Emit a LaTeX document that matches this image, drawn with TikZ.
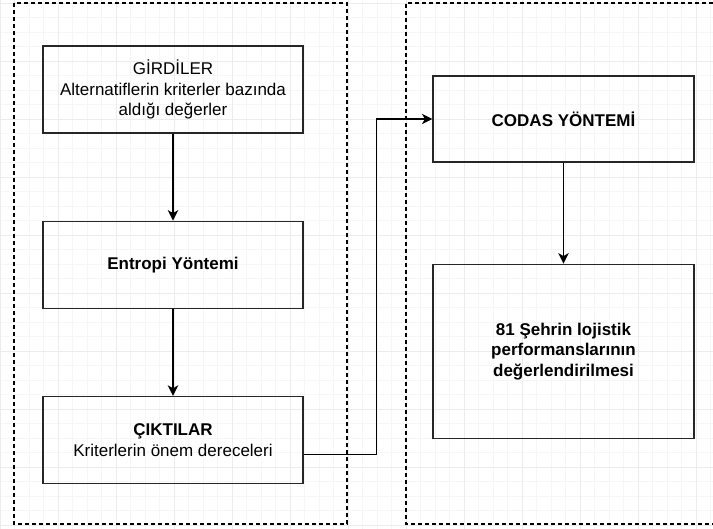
\documentclass[tikz,border=0pt]{standalone}
\usepackage{fontspec}
\setmainfont{Liberation Sans}
\usetikzlibrary{arrows.meta}
\usetikzlibrary{positioning}

\begin{document}
\begin{tikzpicture}[x=1pt, y=1pt,
  box/.style={draw=black!85, line width=1.2pt, minimum width=260pt, minimum height=87pt,
    align=center, inner sep=2pt, font=\fontsize{17}{20.5}\selectfont},
  arr/.style={line width=1.2pt, -{Stealth[length=10.5pt, width=10.5pt, inset=3pt]}},
  frame/.style={line width=1.3pt, dash pattern=on 4pt off 3pt},
  minorgrid/.style={gray!7, line width=0.8pt},
  majorgrid/.style={gray!15, line width=0.8pt}]
  \useasboundingbox (0,0) rectangle (713,-529);
  \clip (0,0) rectangle (713,-529);
  \fill[white] (0,0) rectangle (713,-529);

  % background grid
  \foreach \x in {0,14.5,...,713} \draw[minorgrid] (\x,0) -- (\x,-529);
  \foreach \y in {-3,-17.5,...,-529} \draw[minorgrid] (0,\y) -- (713,\y);
  \foreach \x in {0,58,...,713} \draw[majorgrid] (\x,0) -- (\x,-529);
  \foreach \y in {-3,-61,...,-529} \draw[majorgrid] (0,\y) -- (713,\y);

  % frames
  \draw[frame] (14,-3) rectangle (347,-524);
  \draw[frame] (720,-3) -- (406,-3) -- (406,-524) -- (720,-524);

  \node[box] (gir) at (173,-89.5) {GİRDİLER\\Alternatiflerin kriterler bazında\\aldığı değerler};
  \node[box, below=87pt of gir, font=\fontsize{17}{20.5}\selectfont\bfseries] (ent) {Entropi Yöntemi};
  \node[box, below=87pt of ent] (cik) {\textbf{ÇIKTILAR}\\Kriterlerin önem dereceleri};

  \node[box, minimum width=261pt, minimum height=86pt, font=\fontsize{17}{20.5}\selectfont\bfseries] (codas) at (563.5,-119) {CODAS YÖNTEMİ};
  \node[box, below=101pt of codas, minimum width=261pt, minimum height=174pt,
    font=\fontsize{17}{20.5}\selectfont\bfseries] (sehir) {81 Şehrin lojistik\\performanslarının\\değerlendirilmesi};

  \draw[arr] (gir) -- (ent);
  \draw[arr] (ent) -- (cik);
  \draw[arr] ([yshift=-14.5pt]cik.east) -- ++(73pt,0) |- (codas.west);
  \draw[arr] (codas) -- (sehir);
\end{tikzpicture}
\end{document}
